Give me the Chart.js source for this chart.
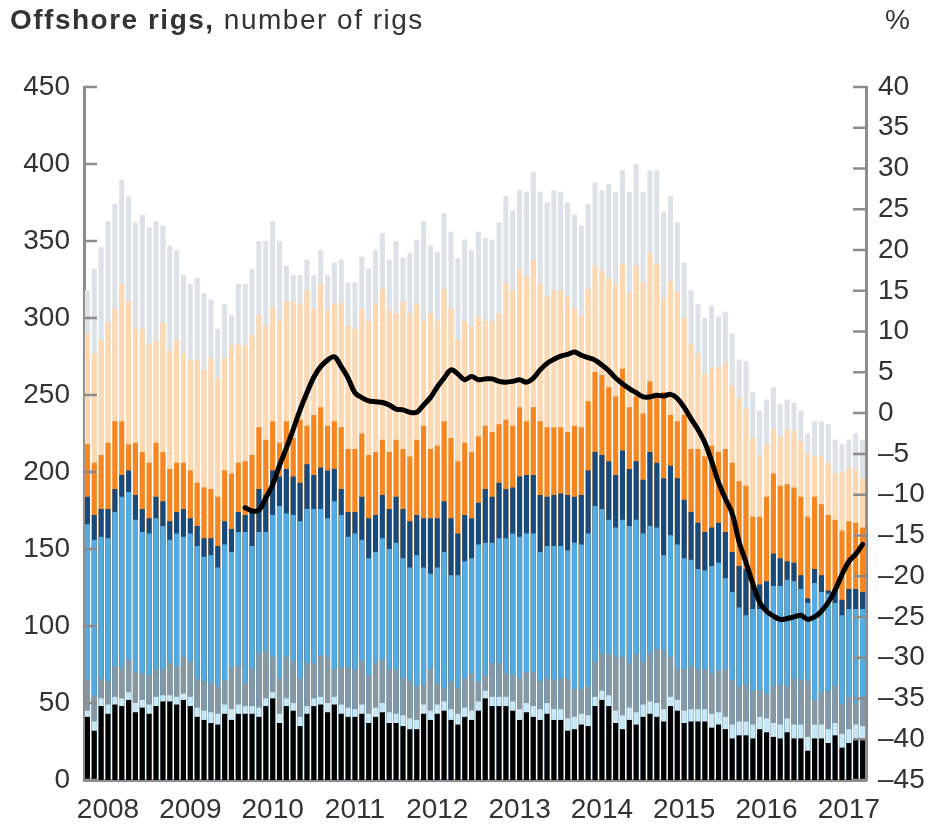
<!DOCTYPE html>
<html>
<head>
<meta charset="utf-8">
<script src="https://cdn.jsdelivr.net/npm/chart.js@4/dist/chart.umd.min.js"></script>
<style>
  body { margin: 0; background: #fff; }
  #wrap { position: relative; width: 935px; height: 828px; }
  #title { position: absolute; left: 10px; top: 4px; font: 28px "Liberation Sans", Arial, sans-serif; letter-spacing: 1.5px; color: #333; white-space: nowrap; }
  #title b { font-weight: bold; }
  #unit { position: absolute; left: 885px; top: 4px; font: 28px "Liberation Sans", Arial, sans-serif; color: #333; }
  canvas { position: absolute; left: 0; top: 0; }
</style>
</head>
<body>
<div id="wrap">
  <canvas id="rigsChart" width="935" height="828"></canvas>
  <div id="title"><b>Offshore rigs,</b> number of rigs</div>
  <div id="unit">%</div>
</div>
<script>
// year labels, shown under bar index 3, 15, 27 ...
const years = ['2008', '2009', '2010', '2011', '2012', '2013', '2014', '2015', '2016', '2017'];
const firstYearBar = 3;

// tops of each band (number of rigs), one value per monthly bar
const topTotal = [
  318, 332, 346, 363, 374, 390, 379, 362, 367, 359, 363, 360, 347, 344, 328, 322, 326, 316, 312, 293, 309, 302, 322, 322, 332, 350, 350, 363, 350, 334, 328, 328, 338, 328, 344, 328, 336, 338, 323, 323, 340, 332,
  344, 355, 338, 350, 339, 342, 351, 363, 347, 343, 368, 356, 339, 351, 344, 356, 352, 351, 362, 379, 370, 383, 382, 395, 382, 375, 383, 382, 375, 367, 360, 374, 388, 383, 387, 382, 396, 382, 400, 382, 396, 396,
  369, 379, 362, 336, 318, 309, 300, 308, 301, 304, 290, 273, 272, 252, 240, 247, 255, 244, 247, 245, 240, 225, 233, 233, 231, 221, 218, 221, 225, 221
];
const topPeach = [
  290, 277, 286, 297, 306, 322, 311, 293, 293, 283, 285, 297, 279, 286, 277, 273, 273, 266, 274, 261, 274, 282, 283, 282, 289, 302, 295, 307, 298, 311, 311, 309, 318, 306, 322, 305, 309, 310, 295, 293, 306, 298,
  309, 319, 305, 303, 311, 303, 309, 298, 303, 298, 319, 306, 286, 298, 295, 301, 298, 298, 303, 323, 318, 332, 327, 338, 322, 314, 318, 318, 314, 306, 302, 319, 334, 331, 326, 322, 335, 316, 334, 323, 342, 335,
  313, 324, 317, 300, 283, 277, 264, 268, 268, 271, 256, 248, 241, 222, 211, 218, 228, 223, 228, 227, 220, 212, 210, 210, 206, 199, 200, 203, 202, 196
];
const topOrange = [
  218, 206, 211, 219, 233, 233, 218, 219, 213, 206, 219, 213, 202, 206, 206, 201, 193, 190, 189, 184, 201, 199, 206, 207, 211, 229, 221, 233, 219, 233, 222, 234, 230, 237, 242, 230, 233, 229, 215, 215, 225, 211,
  213, 221, 213, 221, 215, 210, 221, 230, 215, 217, 233, 222, 207, 219, 213, 223, 230, 226, 231, 234, 230, 242, 233, 242, 233, 229, 229, 229, 226, 230, 229, 246, 265, 263, 255, 249, 267, 242, 249, 238, 259, 249,
  252, 237, 233, 237, 215, 215, 210, 217, 213, 215, 206, 194, 191, 171, 171, 184, 199, 191, 192, 190, 184, 171, 184, 179, 172, 169, 162, 168, 167, 164
];
const topNavy = [
  184, 172, 176, 176, 189, 198, 201, 185, 176, 170, 184, 181, 168, 174, 176, 170, 165, 157, 157, 152, 168, 163, 174, 172, 174, 189, 185, 201, 197, 202, 197, 193, 205, 198, 203, 201, 202, 189, 174, 174, 184, 170,
  172, 185, 176, 184, 176, 168, 172, 170, 170, 170, 181, 170, 160, 172, 170, 180, 189, 184, 193, 189, 190, 197, 198, 198, 185, 184, 185, 186, 185, 184, 185, 201, 213, 211, 207, 198, 214, 202, 207, 195, 213, 206,
  196, 204, 196, 182, 174, 167, 161, 164, 167, 161, 148, 139, 137, 127, 127, 129, 147, 144, 142, 141, 133, 118, 137, 133, 123, 124, 117, 124, 124, 122
];
const topBlue = [
  166, 156, 158, 157, 174, 184, 187, 169, 161, 160, 170, 165, 156, 160, 158, 160, 152, 145, 146, 138, 153, 148, 161, 161, 152, 161, 161, 172, 178, 173, 172, 168, 176, 176, 176, 170, 181, 172, 158, 160, 156, 144,
  148, 157, 150, 154, 144, 138, 146, 138, 134, 138, 148, 133, 133, 142, 144, 153, 154, 154, 157, 157, 160, 158, 160, 160, 148, 152, 152, 152, 149, 154, 153, 160, 178, 176, 169, 164, 169, 165, 169, 160, 165, 164,
  146, 159, 153, 144, 143, 137, 136, 139, 141, 131, 122, 112, 107, 111, 111, 111, 126, 126, 130, 129, 124, 115, 128, 122, 121, 115, 107, 111, 111, 111
];
const topGrey = [
  65, 55, 66, 64, 74, 73, 78, 70, 69, 68, 72, 72, 76, 74, 80, 77, 66, 64, 63, 61, 65, 73, 74, 63, 72, 82, 84, 80, 66, 80, 77, 66, 76, 76, 81, 80, 72, 73, 73, 72, 77, 68,
  76, 78, 72, 72, 66, 64, 61, 62, 72, 63, 60, 64, 60, 66, 69, 64, 68, 76, 76, 69, 68, 66, 70, 70, 64, 66, 65, 66, 66, 59, 59, 61, 77, 82, 82, 80, 80, 76, 82, 77, 82, 85,
  84, 80, 72, 72, 74, 72, 72, 69, 71, 72, 65, 61, 62, 58, 58, 56, 61, 62, 61, 66, 65, 64, 52, 57, 58, 61, 49, 54, 50, 54
];
const topCyan = [
  45, 38, 53, 49, 54, 53, 57, 50, 52, 49, 54, 55, 55, 54, 56, 54, 47, 45, 44, 43, 49, 46, 49, 48, 48, 47, 53, 57, 43, 53, 50, 41, 48, 53, 54, 50, 54, 49, 47, 46, 49, 43,
  47, 50, 44, 43, 42, 40, 39, 49, 45, 49, 51, 46, 43, 47, 45, 51, 58, 54, 54, 54, 51, 46, 50, 48, 46, 50, 46, 46, 40, 41, 43, 42, 54, 58, 55, 45, 42, 47, 44, 49, 51, 50,
  46, 54, 52, 45, 46, 46, 46, 43, 44, 41, 36, 38, 38, 36, 41, 40, 37, 36, 40, 36, 36, 28, 36, 36, 33, 37, 30, 33, 36, 35
];
const topBlack = [
  41, 32, 48, 43, 49, 48, 52, 44, 47, 43, 48, 51, 51, 49, 52, 48, 41, 39, 37, 36, 43, 39, 43, 43, 43, 41, 48, 53, 37, 48, 45, 35, 43, 48, 49, 44, 49, 43, 41, 41, 43, 37,
  41, 44, 37, 37, 35, 33, 33, 43, 39, 43, 45, 39, 36, 41, 39, 45, 53, 48, 48, 48, 45, 39, 44, 41, 39, 43, 39, 39, 32, 33, 36, 35, 48, 52, 48, 37, 33, 39, 36, 41, 43, 41,
  38, 48, 45, 37, 38, 38, 38, 34, 36, 33, 27, 29, 29, 27, 33, 31, 28, 27, 31, 27, 27, 19, 27, 27, 24, 29, 21, 24, 27, 27
];

// black line, right axis (%), starts at bar 23
const lineStart = 23;
const pctLine = [
  -11.6, -12.0, -11.9, -10.4, -8.8, -6.4, -4.3, -2.0, 0.4, 2.5, 4.4, 5.7, 6.5, 6.9, 5.7, 4.3, 2.5, 1.9, 1.5, 1.4, 1.3, 1.0, 0.5, 0.4, 0.1, 0.1,
  1.0, 1.9, 3.2, 4.3, 5.3, 4.8, 4.1, 4.5, 4.1, 4.2, 4.2, 3.9, 3.8, 3.9, 4.1, 3.8, 4.3, 5.3, 6.1, 6.6, 7.0, 7.2, 7.5, 7.1, 6.8, 6.5, 5.9, 5.2,
  4.3, 3.6, 3.0, 2.5, 2.0, 2.0, 2.2, 2.1, 2.3, 1.8, 0.7, -0.7, -2.0, -3.6, -5.9, -8.5, -10.5, -12.3, -15.8, -18.3, -20.9, -23.2, -24.3, -24.9,
  -25.3, -25.2, -25.0, -24.8, -25.3, -25.0, -24.3, -23.2, -21.7, -19.8, -18.2, -17.3, -16.1
];

const labels = topTotal.map((v, i) => i);
const lineData = labels.map(i => (i < lineStart ? null : pctLine[i - lineStart]));

const textColor = '#333333';
const axisGrey = '#8c8c8c';
const tickFont = { family: '"Liberation Sans", Arial, sans-serif', size: 28 };

// short tick marks drawn inside the plot, like the original
const insideTicks = {
  id: 'insideTicks',
  afterDatasetsDraw(chart) {
    const { ctx, chartArea, scales } = chart;
    ctx.save();
    ctx.strokeStyle = axisGrey;
    ctx.lineWidth = 2.5;
    ctx.beginPath();
    for (const t of scales.y.ticks) {
      const y = scales.y.getPixelForValue(t.value);
      ctx.moveTo(chartArea.left - 1, y);
      ctx.lineTo(chartArea.left + 13, y);
    }
    for (const t of scales.y1.ticks) {
      const y = scales.y1.getPixelForValue(t.value);
      ctx.moveTo(chartArea.right + 1, y);
      ctx.lineTo(chartArea.right - 13, y);
    }
    ctx.stroke();
    ctx.restore();
  }
};

function band(data, color) {
  return { type: 'bar', data: data, backgroundColor: color, yAxisID: 'y', grouped: false,
           barPercentage: 0.74, categoryPercentage: 1.0, borderWidth: 0 };
}

new Chart(document.getElementById('rigsChart'), {
  data: {
    labels: labels,
    datasets: [
      { type: 'line', data: lineData, yAxisID: 'y1', borderColor: '#000', borderWidth: 5,
        pointRadius: 0, tension: 0.35, borderCapStyle: 'round', borderJoinStyle: 'round' },
      band(topBlack, '#000000'),
      band(topCyan, '#c4e8f7'),
      band(topGrey, '#8598a6'),
      band(topBlue, '#52abe2'),
      band(topNavy, '#174b7e'),
      band(topOrange, '#f6861f'),
      band(topPeach, '#fdd8b0'),
      band(topTotal, '#dce2e8')
    ]
  },
  options: {
    responsive: false,
    animation: false,
    events: [],
    layout: { padding: { top: 87, left: 0, right: 0, bottom: 0 } },
    plugins: { legend: { display: false }, tooltip: { enabled: false } },
    scales: {
      x: {
        type: 'category',
        offset: true,
        z: 1,
        grid: { display: false, drawTicks: false },
        border: { display: true, color: axisGrey, width: 3 },
        ticks: {
          autoSkip: false, maxRotation: 0, padding: 13, color: textColor, font: tickFont,
          callback: (v, i) => ((i - firstYearBar) % 12 === 0 && i >= firstYearBar ? years[(i - firstYearBar) / 12] : '')
        },
        afterFit: s => { s.height = 48; }
      },
      y: {
        position: 'left', min: 0, max: 450,
        grid: { display: false, drawTicks: false },
        border: { display: true, color: axisGrey, width: 3 },
        ticks: { stepSize: 50, padding: 14, color: textColor, font: tickFont },
        afterFit: s => { s.width = 84; }
      },
      y1: {
        position: 'right', min: -45, max: 40,
        grid: { display: false, drawTicks: false },
        border: { display: true, color: axisGrey, width: 3 },
        ticks: { stepSize: 5, padding: 12, color: textColor, font: tickFont,
                 callback: v => (v < 0 ? '\u2013' + Math.abs(v) : String(v)) },
        afterFit: s => { s.width = 69; }
      }
    }
  },
  plugins: [insideTicks]
});
</script>
</body>
</html>
